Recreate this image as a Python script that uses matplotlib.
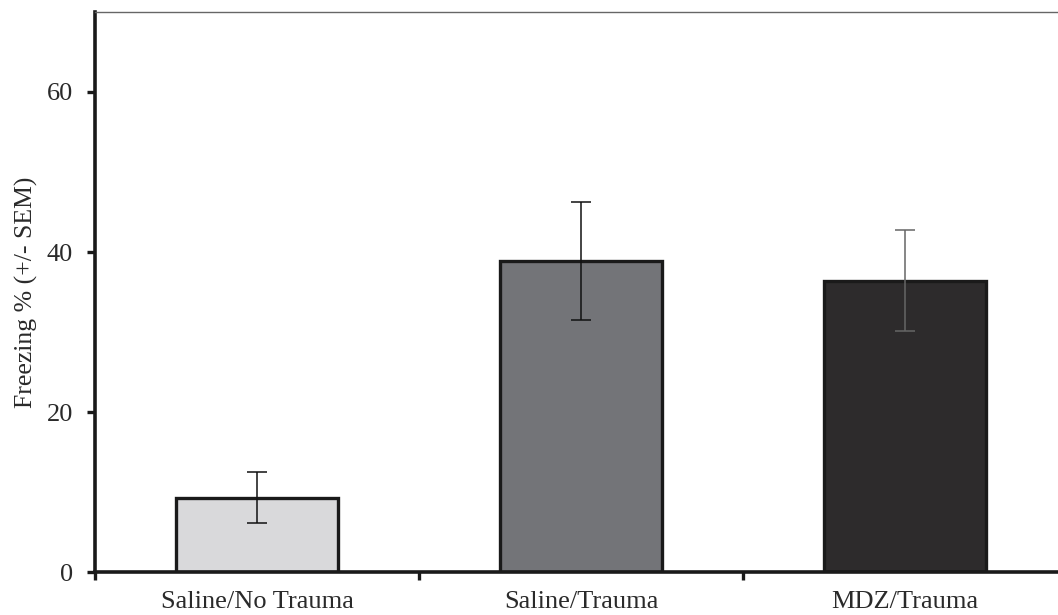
import matplotlib
matplotlib.use("Agg")
import matplotlib.pyplot as plt
import numpy as np

groups = ["Saline/No Trauma", "Saline/Trauma", "MDZ/Trauma"]
freezing = [9.3, 38.9, 36.4]
sem = [3.2, 7.4, 6.3]
bar_colors = ["#d9d9db", "#737478", "#2d2b2c"]
err_colors = ["#111111", "#111111", "#666666"]

plt.rcParams["font.family"] = ["Liberation Serif", "DejaVu Serif"]

fig = plt.figure(figsize=(10.58, 6.15), dpi=100)
ax = fig.add_axes([0.0898, 0.0699, 0.919, 0.9106])

x = np.arange(len(groups))
ax.bar(x, freezing, width=0.5, color=bar_colors, edgecolor="#1a1a1a",
       linewidth=2.4, zorder=2)
for xi, v, e, c in zip(x, freezing, sem, err_colors):
    ax.errorbar(xi, v, yerr=e, fmt="none", ecolor=c, elinewidth=1.1,
                capsize=7, capthick=1.1, zorder=3)

ax.set_xlim(-0.5, 2.5)
ax.set_ylim(0, 70)
ax.set_yticks([0, 20, 40, 60])
ax.set_xticks(x)
ax.set_xticklabels(groups)
ax.set_xticks([-0.5, 0.5, 1.5, 2.5], minor=True)
ax.tick_params(axis="x", which="major", length=0, pad=14, labelsize=19,
               colors="#2a2a2a")
ax.tick_params(axis="x", which="minor", length=6, width=2.4, direction="out",
               color="#1a1a1a")
ax.tick_params(axis="y", length=6, width=2.4, direction="out", pad=10,
               labelsize=19, color="#1a1a1a", labelcolor="#2a2a2a")
ax.set_ylabel("Freezing % (+/- SEM)", fontsize=18.5, color="#2a2a2a", labelpad=6)

for s in ["left", "bottom"]:
    ax.spines[s].set_linewidth(2.6)
    ax.spines[s].set_color("#1a1a1a")
ax.spines["top"].set_linewidth(1.0)
ax.spines["top"].set_color("#666666")
ax.spines["right"].set_visible(False)

fig.savefig("out.png", dpi=100)
